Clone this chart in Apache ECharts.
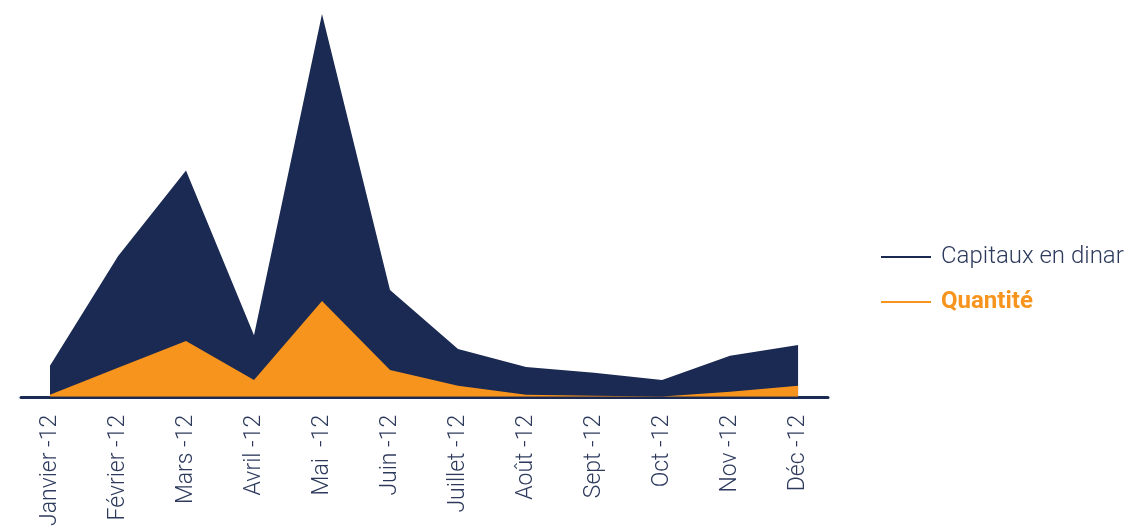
<!DOCTYPE html>
<html style="height: 100%">
<head>
    <meta charset="utf-8">
    <title>Capitaux et quantité</title>
    <script src="https://cdn.jsdelivr.net/npm/echarts@6/dist/echarts.min.js"></script>
</head>
<body style="height: 100%; margin: 0">
<div id="main" style="width: 1128px; height: 529px"></div>
<script type="text/javascript">

    // données (échelle relative, max = 100)
    var mois = ['Janvier -12', 'Février -12', 'Mars -12', 'Avril -12', 'Mai  -12', 'Juin -12',
                'Juillet -12', 'Août -12', 'Sept -12', 'Oct -12', 'Nov -12', 'Déc -12'];
    var capitaux = [8.1, 36.7, 59.1, 16.1, 100, 27.9, 12.5, 7.8, 6.3, 4.4, 10.7, 13.5];
    var quantite = [0.5, 7.6, 14.6, 4.4, 25, 7.0, 2.9, 0.5, 0.3, 0.1, 1.3, 2.9];

    function pairs(arr) {
        return arr.map(function (v, i) { return [i, v]; });
    }
    var positions = mois.map(function (m, i) { return i; });

    var navy = '#1b2a52';
    var orange = '#f7941d';

    var myChart = echarts.init(document.getElementById('main'));

    option = {
        animation: false,
        grid: { left: 21, right: 300, top: 14, bottom: 130 },
        legend: {
            orient: 'vertical',
            left: 876,
            top: 240,
            itemWidth: 50,
            itemHeight: 2,
            itemGap: 21,
            icon: 'rect',
            textStyle: { fontFamily: 'Roboto', fontSize: 24, padding: [0, 0, 0, 5] },
            data: [
                { name: 'Capitaux en dinar', textStyle: { color: '#2d3a5c', fontWeight: 300 } },
                { name: 'Quantité', textStyle: { color: orange, fontWeight: 'bold' } }
            ]
        },
        xAxis: {
            type: 'value',
            min: -0.426,
            max: 11.44,
            splitLine: { show: false },
            axisTick: { show: false },
            axisLine: { show: true, onZero: false, lineStyle: { color: navy, width: 3 } },
            axisLabel: {
                customValues: positions,
                rotate: 90,
                margin: 18,
                color: '#2d3a5c',
                fontFamily: 'Roboto',
                fontWeight: 300,
                fontSize: 23,
                formatter: function (v) { return mois[Math.round(v)]; }
            }
        },
        yAxis: {
            type: 'value',
            min: 0,
            max: 100,
            show: false
        },
        series: [
            {
                name: 'Capitaux en dinar',
                type: 'line',
                data: pairs(capitaux),
                symbol: 'none',
                color: navy,
                lineStyle: { width: 0 },
                areaStyle: { color: navy, opacity: 1 }
            },
            {
                name: 'Quantité',
                type: 'line',
                data: pairs(quantite),
                symbol: 'none',
                color: orange,
                lineStyle: { width: 0 },
                areaStyle: { color: orange, opacity: 1 }
            }
        ]
    };

    myChart.setOption(option);
</script>
</body>
</html>
